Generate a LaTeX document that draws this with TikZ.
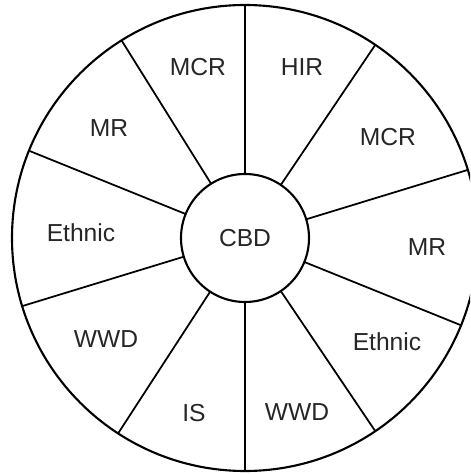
\documentclass[tikz,border=0pt]{standalone}
\usepackage{fontspec}
\setmainfont{Liberation Sans}

\begin{document}
\begin{tikzpicture}[
                    zone/.style={font=\fontsize{14}{16}\selectfont, text=black!85},
                    ring/.style={circle, draw, line width=1.2pt, inner sep=0pt, outer sep=0pt},
                    spoke/.style={line width=1pt}
                ]
                \useasboundingbox (-4.9,-4.72) rectangle (4.5,4.76);
                \clip (-4.9,-4.72) rectangle (4.5,4.76);
                \node[ring, minimum size=9.32cm] (city) at (0,0) {};
                \node[ring, minimum size=2.56cm, zone] (cbd) at (0,0) {CBD};
                
                \foreach \a in {90, 56, 17, -22, -56, -90, -123, -163, 158, 122}
                    \draw[spoke] (cbd.\a) -- (city.\a);
                
                \node[zone] (mcrA) at (-0.94, 3.42) {MCR};
                \node[zone] (hir) at (1.14, 3.42) {HIR};
                \node[zone] (mcrB) at (2.86, 2.02) {MCR};
                \node[zone] (mrB) at (3.64, -0.18) {MR};
                \node[zone] (ethnicB) at (2.84, -2.08) {Ethnic};
                \node[zone] (wwdB) at (1.04, -3.48) {WWD};
                \node[zone] (is) at (-1.02, -3.5) {IS};
                \node[zone] (wwdA) at (-2.78, -2.02) {WWD};
                \node[zone] (ethnicA) at (-3.28, 0.10) {Ethnic};
                \node[zone] (mrA) at (-2.72, 2.2) {MR};
\end{tikzpicture}
\end{document}
